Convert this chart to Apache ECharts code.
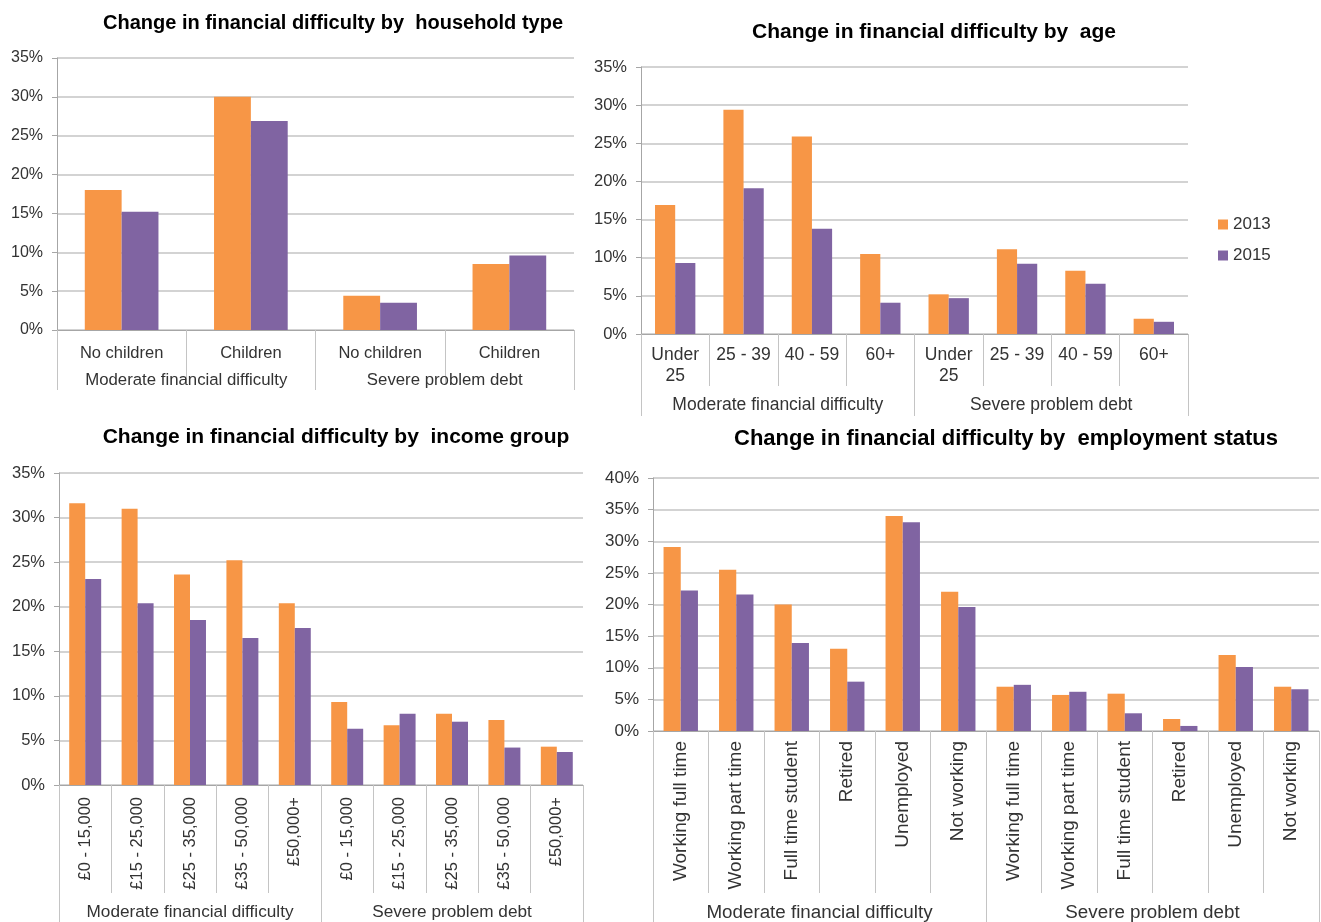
<!DOCTYPE html>
<html>
<head>
<meta charset="utf-8">
<script src="https://cdn.jsdelivr.net/npm/echarts@6/dist/echarts.min.js"></script>
<style>
html, body { margin: 0; padding: 0; background: #fff; }
#main { width: 1321px; height: 922px; }
</style>
</head>
<body>
<div id="main"></div>
<script>
// shared
var groups = ['Moderate financial difficulty', 'Severe problem debt'];
var seriesNames = ['2013', '2015'];

// household type
var householdCats = ['No children', 'Children', 'No children', 'Children'];
var household2013 = [18.0, 30.0, 4.4, 8.5];
var household2015 = [15.2, 26.9, 3.5, 9.6];

// age
var ageCats = ['Under\n25', '25 - 39', '40 - 59', '60+', 'Under\n25', '25 - 39', '40 - 59', '60+'];
var age2013 = [16.9, 29.4, 25.9, 10.5, 5.2, 11.1, 8.3, 2.0];
var age2015 = [9.3, 19.1, 13.8, 4.1, 4.7, 9.2, 6.6, 1.6];

// income group
var incomeCats = ['£0 - 15,000', '£15 - 25,000', '£25 - 35,000', '£35 - 50,000', '£50,000+',
                  '£0 - 15,000', '£15 - 25,000', '£25 - 35,000', '£35 - 50,000', '£50,000+'];
var income2013 = [31.6, 31.0, 23.6, 25.2, 20.4, 9.3, 6.7, 8.0, 7.3, 4.3];
var income2015 = [23.1, 20.4, 18.5, 16.5, 17.6, 6.3, 8.0, 7.1, 4.2, 3.7];

// employment status
var employCats = ['Working full time', 'Working part time', 'Full time student', 'Retired', 'Unemployed', 'Not working',
                  'Working full time', 'Working part time', 'Full time student', 'Retired', 'Unemployed', 'Not working'];
var employ2013 = [29.1, 25.5, 20.0, 13.0, 34.0, 22.0, 7.0, 5.7, 5.9, 1.9, 12.0, 7.0];
var employ2015 = [22.2, 21.6, 13.9, 7.8, 33.0, 19.6, 7.3, 6.2, 2.8, 0.8, 10.1, 6.6];

// y ticks
var yMax = [35, 35, 35, 40];
var yStep = 5;

var ORANGE = '#F79646';
var PURPLE = '#8064A2';
var FONT = '"Liberation Sans", Arial, sans-serif';
var TXT = '#333';
var GRIDC = '#C4C4C4';
var AXISC = '#A6A6A6';

var panels = [
  { title: 'Change in financial difficulty by  household type', cats: householdCats, a: household2013, b: household2015,
    grid: { left: 57, top: 58, width: 517, height: 272 }, tx: 333, ty: 13, tsize: 20,
    ysize: 16, xsize: 16.5, gsize: 16.8, xmargin: 13, rotate: 0, inner: 53, outer: 60, gmargin: 42, gap: '43%' },
  { title: 'Change in financial difficulty by  age', cats: ageCats, a: age2013, b: age2015,
    grid: { left: 641, top: 67, width: 547, height: 267 }, tx: 934, ty: 22, tsize: 21,
    ysize: 16.5, xsize: 17.5, gsize: 17.5, xmargin: 11, rotate: 0, inner: 52, outer: 82, gmargin: 62, gap: '41%' },
  { title: 'Change in financial difficulty by  income group', cats: incomeCats, a: income2013, b: income2015,
    grid: { left: 59, top: 473, width: 524, height: 312 }, tx: 336, ty: 427, tsize: 21,
    ysize: 16.5, xsize: 16.5, gsize: 17.2, xmargin: 12, rotate: 90, inner: 108, outer: 137, gmargin: 119, gap: '39%' },
  { title: 'Change in financial difficulty by  employment status', cats: employCats, a: employ2013, b: employ2015,
    grid: { left: 653, top: 478, width: 666, height: 253 }, tx: 1006, ty: 428, tsize: 22,
    ysize: 17, xsize: 19, gsize: 18.8, xmargin: 10, rotate: 90, inner: 162, outer: 191, gmargin: 172, gap: '38%' }
];

var option = {
  backgroundColor: '#fff',
  animation: false,
  title: [], grid: [], xAxis: [], yAxis: [], series: [],
  legend: {
    data: seriesNames,
    orient: 'vertical',
    left: 1213, top: 211,
    itemWidth: 10, itemHeight: 10, itemGap: 14,
    icon: 'rect',
    textStyle: { fontFamily: FONT, fontSize: 17, color: TXT }
  }
};

panels.forEach(function (p, i) {
  option.title.push({
    text: p.title, left: p.tx, top: p.ty, textAlign: 'center', padding: 0,
    textStyle: { fontFamily: FONT, fontSize: p.tsize, fontWeight: 'bold', color: '#000' }
  });
  option.grid.push(p.grid);
  // inner category axis
  option.xAxis.push({
    type: 'category', gridIndex: i, position: 'bottom', data: p.cats,
    axisLine: { show: true, lineStyle: { color: AXISC } },
    axisTick: { show: true, interval: 0, length: p.inner, lineStyle: { color: GRIDC } },
    axisLabel: { interval: 0, margin: p.xmargin, rotate: p.rotate, fontFamily: FONT, fontSize: p.xsize,
                 color: TXT, lineHeight: 21 },
    splitLine: { show: false }
  });
  // outer group axis
  option.xAxis.push({
    type: 'category', gridIndex: i, position: 'bottom', data: groups,
    axisLine: { show: false },
    axisTick: { show: true, interval: 0, length: p.outer, lineStyle: { color: GRIDC } },
    axisLabel: { interval: 0, margin: p.gmargin, fontFamily: FONT, fontSize: p.gsize, color: TXT },
    splitLine: { show: false }
  });
  option.yAxis.push({
    type: 'value', gridIndex: i, min: 0, max: yMax[i], interval: yStep,
    axisLine: { show: true, lineStyle: { color: AXISC } },
    axisTick: { show: true, length: 5, lineStyle: { color: AXISC } },
    axisLabel: { formatter: '{value}%', margin: 14, fontFamily: FONT, fontSize: p.ysize, color: TXT },
    splitLine: { show: true, lineStyle: { color: GRIDC, width: 1.5 } }
  });
  [p.a, p.b].forEach(function (vals, k) {
    option.series.push({
      name: seriesNames[k], type: 'bar',
      xAxisIndex: i * 2, yAxisIndex: i,
      barGap: '0%', barCategoryGap: p.gap,
      itemStyle: { color: k === 0 ? ORANGE : PURPLE },
      data: vals
    });
  });
});

var chart = echarts.init(document.getElementById('main'));
chart.setOption(option);
</script>
</body>
</html>
